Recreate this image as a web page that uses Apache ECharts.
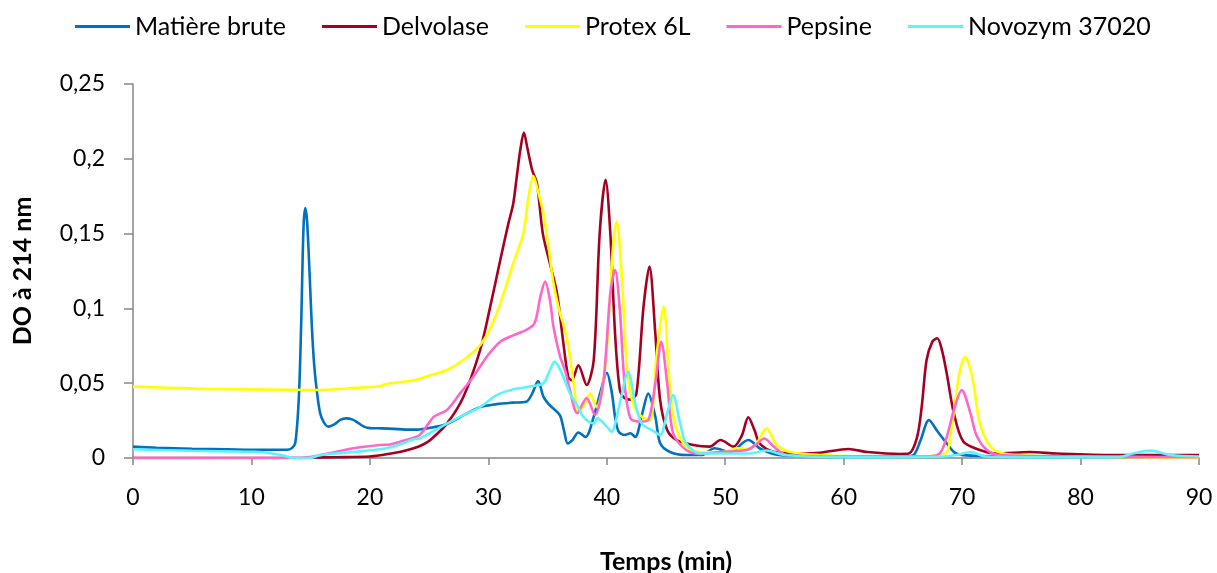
<!DOCTYPE html>
<html>
<head>
<meta charset="utf-8">
<script src="https://cdn.jsdelivr.net/npm/echarts@6/dist/echarts.min.js"></script>
<style>
  html, body { margin: 0; padding: 0; background: #fff; }
  #chart { width: 1217px; height: 573px; }
</style>
</head>
<body>
<div id="chart"></div>
<script>
// Chromatogrammes : temps de rétention (min) et densité optique à 214 nm
const seriesNames = ['Matière brute', 'Delvolase', 'Protex 6L', 'Pepsine', 'Novozym 37020'];
const seriesColors = ['#0070C0', '#A50021', '#FFFF00', '#FF66CC', '#5CF3FB'];

const xTicks = [0, 10, 20, 30, 40, 50, 60, 70, 80, 90];
const yTicks = [0, 0.05, 0.1, 0.15, 0.2, 0.25];

// [temps, DO]
const matiereBrute = [
  [0, 0.0076], [2, 0.0068], [5, 0.0062], [8, 0.0058], [11, 0.0055], [13, 0.0055],
  [13.4, 0.0065], [13.7, 0.010], [14.0, 0.04], [14.2, 0.09], [14.4, 0.155], [14.55, 0.167],
  [14.7, 0.158], [14.9, 0.125], [15.1, 0.088], [15.3, 0.062], [15.55, 0.043], [15.8, 0.030],
  [16.1, 0.024], [16.5, 0.021], [17.0, 0.0225], [17.5, 0.0255], [18.0, 0.0265], [18.5, 0.0258],
  [19.0, 0.0235], [19.5, 0.021], [20, 0.020], [21, 0.0198], [22, 0.0195], [23, 0.019],
  [24, 0.019], [25, 0.020], [26.5, 0.0227], [28, 0.029], [29.3, 0.034], [30.7, 0.036],
  [32, 0.037], [33.2, 0.0376], [33.7, 0.043], [34.2, 0.0515], [34.65, 0.041], [35.1, 0.036],
  [35.5, 0.033], [36.05, 0.0285], [36.4, 0.018], [36.7, 0.0098], [37.1, 0.012], [37.6, 0.017],
  [38.2, 0.014], [38.9, 0.0276], [39.5, 0.045], [40.0, 0.057], [40.4, 0.045], [40.7, 0.0276],
  [41.0, 0.0176], [41.5, 0.0154], [42.0, 0.0165], [42.4, 0.014], [43.0, 0.030], [43.5, 0.043],
  [44.1, 0.0276], [44.5, 0.010], [45.3, 0.0042], [46.7, 0.002], [48, 0.002], [49.1, 0.0065],
  [50.4, 0.004], [51.95, 0.012], [53, 0.006], [54.5, 0.002], [56, 0.0015], [60, 0.001],
  [65, 0.001], [65.9, 0.002], [66.5, 0.012], [67.2, 0.0254], [67.9, 0.018], [68.7, 0.0098],
  [69.5, 0.003], [71, 0.0015], [75, 0.001], [80, 0.001], [85, 0.001], [90, 0.001]
];

const delvolase = [
  [0, 0], [5, 0], [10, 0], [14, 0], [15.2, 0.0003], [17, 0.0005], [20, 0.001], [21, 0.002],
  [22.5, 0.004], [23.7, 0.0065], [24.5, 0.009], [25.1, 0.012], [26.5, 0.023], [27.9, 0.041],
  [29.3, 0.072], [30.1, 0.099], [31.0, 0.132], [31.7, 0.157], [32.1, 0.170], [32.4, 0.188],
  [32.7, 0.206], [33.0, 0.2175], [33.3, 0.207], [33.7, 0.1925], [34.1, 0.1836], [34.6, 0.150],
  [35.2, 0.130], [35.8, 0.110], [36.3, 0.079], [36.75, 0.054], [37.05, 0.052], [37.6, 0.062],
  [38.3, 0.0488], [38.9, 0.0655], [39.4, 0.150], [39.9, 0.186], [40.3, 0.150], [40.7, 0.083],
  [41.1, 0.0455], [41.5, 0.040], [42.0, 0.039], [42.5, 0.043], [43.1, 0.101], [43.6, 0.128],
  [44.1, 0.083], [44.5, 0.039], [45.1, 0.0187], [45.9, 0.012], [47.3, 0.0087], [48.7, 0.0076],
  [49.6, 0.012], [50.7, 0.0076], [51.4, 0.015], [51.95, 0.0272], [52.5, 0.018], [52.9, 0.0098],
  [54.1, 0.0042], [56.3, 0.003], [58, 0.0035], [60.4, 0.006], [62, 0.004], [64.8, 0.0027],
  [65.5, 0.003], [66.2, 0.014], [66.6, 0.035], [67.0, 0.0655], [67.5, 0.078], [67.9, 0.080],
  [68.3, 0.072], [68.7, 0.0566], [69.3, 0.030], [70.1, 0.011], [71.5, 0.0053], [72.9, 0.003],
  [75.7, 0.004], [78, 0.003], [82.7, 0.002], [86, 0.002], [90, 0.002]
];

const protex6L = [
  [0, 0.0477], [3, 0.047], [6, 0.0462], [10, 0.0459], [15.8, 0.0455], [18, 0.0465],
  [20.85, 0.048], [21.4, 0.0495], [23.7, 0.052], [25, 0.055], [26.5, 0.0588], [27.9, 0.0655],
  [29.3, 0.0755], [30.1, 0.0856], [31.0, 0.103], [32.1, 0.130], [32.95, 0.150], [33.4, 0.175],
  [33.8, 0.1885], [34.2, 0.178], [34.65, 0.1636], [35.1, 0.14], [35.5, 0.1168], [36.05, 0.0967],
  [36.4, 0.088], [36.75, 0.075], [37.2, 0.050], [37.6, 0.030], [38.0, 0.034], [38.6, 0.043],
  [39.15, 0.034], [39.6, 0.045], [40.0, 0.072], [40.55, 0.1435], [40.84, 0.158], [41.3, 0.1168],
  [41.7, 0.061], [42.2, 0.0366], [42.95, 0.0276], [43.65, 0.0254], [44.2, 0.068], [44.8, 0.101],
  [45.3, 0.050], [45.75, 0.023], [46.7, 0.0076], [47.9, 0.004], [49.8, 0.004], [51.0, 0.0065],
  [52.0, 0.006], [52.65, 0.0098], [53.5, 0.0198], [54.35, 0.0087], [55.5, 0.004], [58, 0.002],
  [62, 0.001], [66, 0.001], [68.6, 0.003], [69.0, 0.014], [69.4, 0.0366], [69.8, 0.058],
  [70.25, 0.0677], [70.6, 0.062], [71.0, 0.0477], [71.5, 0.023], [72.4, 0.0076], [73.5, 0.003],
  [76, 0.0015], [80, 0.001], [85, 0.0005], [90, 0]
];

const pepsine = [
  [0, 0], [5, 0], [10, 0], [14, 0], [15.2, 0.001], [16.5, 0.003], [18.6, 0.0065], [20.85, 0.0087],
  [21.7, 0.009], [23, 0.012], [24.2, 0.0154], [25.4, 0.0276], [26.5, 0.032], [27.6, 0.043],
  [28.7, 0.054], [29.9, 0.068], [31.0, 0.0777], [32.1, 0.082], [33.2, 0.0856], [33.9, 0.090],
  [34.4, 0.108], [34.8, 0.118], [35.2, 0.1056], [35.5, 0.0878], [36.05, 0.068], [36.5, 0.058],
  [36.9, 0.045], [37.5, 0.030], [38.3, 0.040], [39.0, 0.0287], [39.7, 0.050], [40.3, 0.110],
  [40.7, 0.1257], [41.1, 0.099], [41.5, 0.050], [42.0, 0.0265], [42.8, 0.0243], [43.5, 0.0254],
  [44.1, 0.050], [44.6, 0.0777], [45.1, 0.050], [45.6, 0.0165], [46.7, 0.0053], [47.9, 0.0027],
  [49.6, 0.004], [51.8, 0.0053], [52.6, 0.009], [53.3, 0.013], [54.1, 0.0076], [55.2, 0.002],
  [60, 0.001], [67, 0.001], [68.1, 0.003], [68.7, 0.014], [69.3, 0.032], [69.97, 0.0455],
  [70.7, 0.030], [71.2, 0.0154], [72.1, 0.0053], [73.2, 0.002], [80, 0.001], [90, 0.0005]
];

const novozym37020 = [
  [0, 0.0058], [5, 0.0048], [10.1, 0.0042], [11.3, 0.0035], [12.5, 0.002], [13.0, 0.001],
  [13.5, 0], [14.9, 0], [15.8, 0.002], [18.6, 0.004], [21.4, 0.0065], [22.5, 0.009],
  [23.7, 0.0125], [24.2, 0.013], [26.5, 0.023], [27.9, 0.0287], [29.3, 0.034], [30.7, 0.042],
  [32.1, 0.046], [33.5, 0.0477], [34.65, 0.050], [35.2, 0.0588], [35.6, 0.0644], [36.2, 0.0566],
  [36.9, 0.043], [37.6, 0.034], [38.0, 0.0276], [38.9, 0.023], [39.2, 0.0265], [40.0, 0.021],
  [40.4, 0.0176], [41.1, 0.0366], [41.8, 0.0577], [42.4, 0.0366], [42.95, 0.023], [43.8, 0.0187],
  [44.5, 0.0154], [45.1, 0.030], [45.6, 0.042], [46.2, 0.023], [46.7, 0.0098], [47.9, 0.003],
  [50, 0.003], [52, 0.003], [53.5, 0.005], [55, 0.002], [60, 0.0005], [68, 0.0008],
  [69.5, 0.002], [70.7, 0.004], [72, 0.001], [78, 0.0005], [83.3, 0.0007], [84.4, 0.003],
  [85.9, 0.0049], [87.6, 0.002], [90, 0.001]
];

const seriesData = [matiereBrute, delvolase, protex6L, pepsine, novozym37020];

const FONT = 'Lato, "Noto Sans", sans-serif';
const AXIS_GREY = '#868686';

const chart = echarts.init(document.getElementById('chart'), null, { renderer: 'canvas' });

chart.setOption({
  animation: false,
  backgroundColor: '#ffffff',
  textStyle: { fontFamily: FONT, color: '#000' },
  legend: {
    data: seriesNames,
    left: 70,
    top: 9,
    icon: 'rect',
    itemWidth: 55,
    itemHeight: 3,
    itemGap: 36,
    textStyle: { fontFamily: FONT, fontSize: 25, color: '#000' }
  },
  grid: { left: 133, right: 18, top: 84, bottom: 115, outerBoundsMode: 'none' },
  xAxis: {
    type: 'value',
    min: xTicks[0],
    max: xTicks[xTicks.length - 1],
    interval: xTicks[1] - xTicks[0],
    name: 'Temps (min)',
    nameLocation: 'middle',
    nameGap: 91,
    nameTextStyle: { fontFamily: FONT, fontSize: 25, fontWeight: 'bold', color: '#000' },
    axisLine: { show: true, lineStyle: { color: AXIS_GREY, width: 1.5 } },
    axisTick: { show: true, length: 7, lineStyle: { color: AXIS_GREY, width: 1.5 } },
    axisLabel: { fontFamily: FONT, fontSize: 23, color: '#000', margin: 28 },
    splitLine: { show: false }
  },
  yAxis: {
    type: 'value',
    min: yTicks[0],
    max: yTicks[yTicks.length - 1],
    interval: yTicks[1] - yTicks[0],
    name: 'DO à 214 nm',
    nameLocation: 'middle',
    nameGap: 98,
    nameTextStyle: { fontFamily: FONT, fontSize: 25, fontWeight: 'bold', color: '#000' },
    axisLine: { show: true, lineStyle: { color: AXIS_GREY, width: 1.5 } },
    axisTick: { show: true, length: 9, lineStyle: { color: AXIS_GREY, width: 1.5 } },
    axisLabel: {
      fontFamily: FONT, fontSize: 23, color: '#000', margin: 28,
      formatter: v => String(parseFloat(v.toFixed(2))).replace('.', ',')
    },
    splitLine: { show: false }
  },
  series: seriesNames.map((name, i) => ({
    name,
    type: 'line',
    data: seriesData[i],
    showSymbol: false,
    symbol: 'none',
    smooth: 0.3,
    color: seriesColors[i],
    lineStyle: { width: 2.6, color: seriesColors[i] }
  }))
});
</script>
</body>
</html>
